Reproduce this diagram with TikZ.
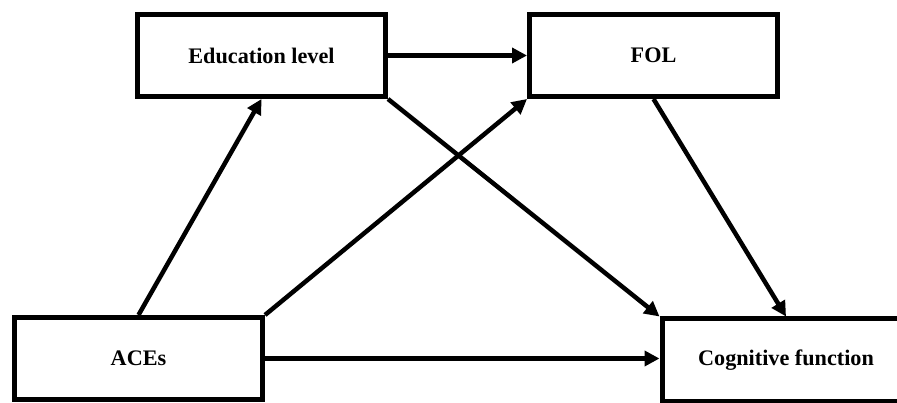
\documentclass[tikz,border=0pt]{standalone}
\usepackage{fontspec}
\setmainfont{Liberation Serif}
\usetikzlibrary{arrows.meta}
\begin{document}
\begin{tikzpicture}[x=1pt,y=1pt,
  box/.style={draw=black, line width=5pt, fill=white, rectangle, inner sep=0pt,
    minimum width=248pt, minimum height=82pt,
    font=\fontsize{22.2}{25}\selectfont\bfseries},
  link/.style={line width=4.5pt, -{Triangle[length=15pt,width=15pt]}}
]
\useasboundingbox (0,0) rectangle (897,-403);
\clip (0,0) rectangle (897,-403);
\fill[white] (0,0) rectangle (897,-403);
\node[box] (edu) at (261.5,-55.5) {Education level};
\node[box] (fol) at (653.5,-55.5) {FOL};
\node[box] (ace) at (138.5,-358.5) {ACEs};
\node[box] (cog) at (786,-360) {Cognitive function};
\draw[link] (ace.north) -- (edu.south);
\draw[link] (ace.north east) -- (fol.south west);
\draw[link] (ace.east) -- (ace.east -| cog.west);
\draw[link] (edu.east) -- (fol.west);
\draw[link] (edu.south east) -- (cog.north west);
\draw[link] (fol.south) -- (cog.north);
\end{tikzpicture}
\end{document}
